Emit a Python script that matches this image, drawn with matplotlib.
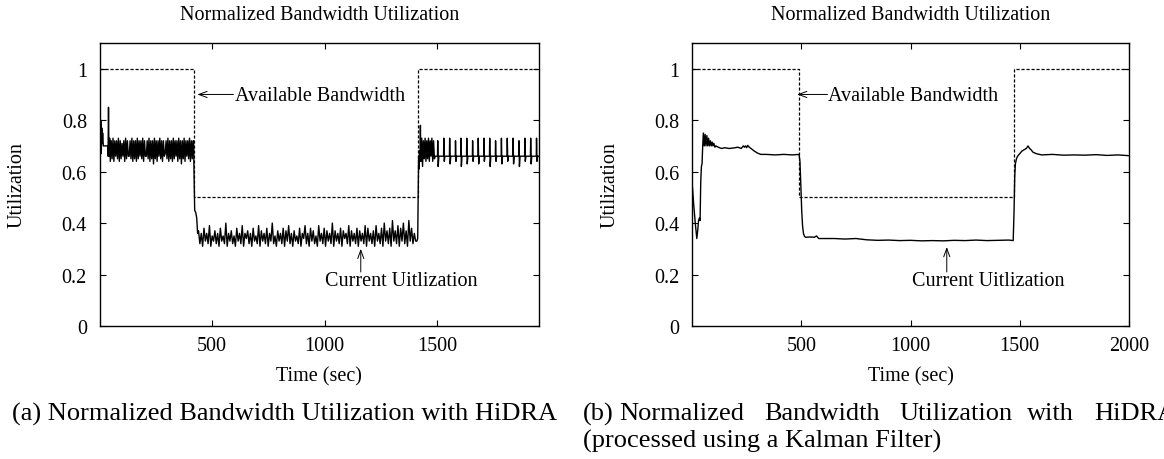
import numpy as np
import matplotlib
matplotlib.use('Agg')
from matplotlib import pyplot as plt

plt.rcParams['font.family'] = ['Liberation Serif', 'DejaVu Serif']

# ---- panel (a): raw utilization ----
# start-up part
t_a0 = [0, 2, 4, 6, 8, 10, 12, 14, 17, 20, 36, 38, 40, 42, 45, 48]
u_a0 = [0.76, 0.79, 0.73, 0.80, 0.67, 0.77, 0.71, 0.75, 0.70, 0.70,
        0.70, 0.66, 0.85, 0.66, 0.73, 0.64]
# dense band before the bandwidth drop (52..416 s)
u_a1 = [0.72, 0.65, 0.73, 0.64, 0.72, 0.66, 0.72, 0.65, 0.73, 0.64,
        0.72, 0.65, 0.71, 0.66, 0.72, 0.64, 0.73, 0.65, 0.72, 0.66,
        0.66, 0.72, 0.65, 0.73, 0.64, 0.72, 0.65, 0.72, 0.64, 0.73,
        0.65, 0.72, 0.66, 0.72, 0.65, 0.73, 0.64, 0.72, 0.66, 0.66,
        0.72, 0.65, 0.73, 0.64, 0.72, 0.65, 0.72, 0.63, 0.73, 0.65,
        0.72, 0.64, 0.72, 0.66, 0.73, 0.65, 0.72, 0.64, 0.72, 0.66,
        0.67, 0.72, 0.65, 0.73, 0.64, 0.72, 0.65, 0.72, 0.64, 0.73,
        0.65, 0.72, 0.66, 0.72, 0.64, 0.73, 0.65, 0.72, 0.63, 0.72,
        0.65, 0.73, 0.64, 0.72, 0.66, 0.72, 0.65, 0.73, 0.64, 0.72,
        0.65, 0.72]
# drop
t_a1d = [418, 420, 423, 428, 432, 436]
u_a1d = [0.72, 0.60, 0.45, 0.44, 0.42, 0.36]
# band at half bandwidth (440..1405 s)
u_a2 = [0.37, 0.32, 0.36, 0.31, 0.38, 0.33, 0.36, 0.32, 0.39, 0.31,
        0.35, 0.33, 0.37, 0.32, 0.36, 0.31, 0.38, 0.33, 0.35, 0.32,
        0.40, 0.31, 0.36, 0.33, 0.37, 0.32, 0.35, 0.31, 0.38, 0.33,
        0.36, 0.32, 0.39, 0.31, 0.36, 0.34, 0.37, 0.32, 0.36, 0.31,
        0.38, 0.33, 0.35, 0.32, 0.39, 0.31, 0.37, 0.33, 0.36, 0.32,
        0.38, 0.31, 0.36, 0.33, 0.40, 0.32, 0.35, 0.31, 0.37, 0.33,
        0.36, 0.32, 0.38, 0.31, 0.37, 0.33, 0.39, 0.32, 0.36, 0.31,
        0.37, 0.33, 0.35, 0.32, 0.38, 0.31, 0.36, 0.34, 0.39, 0.32,
        0.36, 0.31, 0.38, 0.33, 0.37, 0.32, 0.35, 0.31, 0.39, 0.33,
        0.36, 0.32, 0.38, 0.31, 0.37, 0.33, 0.36, 0.32, 0.40, 0.31,
        0.37, 0.33, 0.36, 0.32, 0.38, 0.31, 0.37, 0.34, 0.36, 0.32,
        0.39, 0.31, 0.37, 0.33, 0.36, 0.32, 0.38, 0.31, 0.37, 0.33,
        0.36, 0.32, 0.39, 0.31, 0.38, 0.33, 0.36, 0.32, 0.37, 0.31,
        0.39, 0.33, 0.36, 0.32, 0.38, 0.31, 0.40, 0.33, 0.37, 0.32,
        0.38, 0.31, 0.41, 0.33, 0.37, 0.32, 0.39, 0.31, 0.38, 0.33,
        0.40, 0.32, 0.37, 0.31, 0.41, 0.33, 0.38, 0.32, 0.36, 0.33]
# rise back
t_a2r = [1410, 1414, 1416, 1418, 1420, 1422, 1424, 1426]
u_a2r = [0.33, 0.34, 0.50, 0.66, 0.61, 0.68, 0.64, 0.78]
# short dense band after the rise (1428..1492 s)
u_a3 = [0.64, 0.73, 0.62, 0.72, 0.65, 0.73, 0.64, 0.72, 0.65, 0.73,
        0.64, 0.72, 0.66, 0.73, 0.64, 0.72, 0.65, 0.66]
# periodic spikes on a 0.66 baseline
spike_t = [1503, 1530, 1556, 1582, 1606, 1632, 1658, 1683, 1708,
           1734, 1760, 1786, 1812, 1838, 1864, 1890, 1916, 1942]
spike_top = [0.72, 0.73, 0.73, 0.72, 0.73, 0.73, 0.72, 0.73, 0.73,
             0.73, 0.72, 0.73, 0.73, 0.73, 0.72, 0.73, 0.73, 0.73]
spike_low = [0.62, 0.64, 0.63, 0.64, 0.62, 0.63, 0.64, 0.63, 0.64,
             0.62, 0.64, 0.63, 0.64, 0.63, 0.62, 0.64, 0.63, 0.64]
base_a = 0.66
end_a = 1953

avail_t_a = [0, 420, 1416, 1953]
avail_a = [1.0, 0.5, 1.0, 1.0]

# ---- panel (b): Kalman filtered ----
t_b = [0, 2, 8, 15, 22, 26, 30, 34, 37, 40,
       43, 46, 49, 52, 56, 60, 64, 68, 72, 76,
       80, 84, 88, 92, 96, 100, 105, 110, 120, 135,
       150, 170, 190, 210, 225, 235, 240, 245, 250, 255,
       262, 270, 285, 300, 315, 340, 380, 420, 460, 490,
       494, 498, 502, 506, 510, 515, 520, 540, 560, 570,
       580, 600, 650, 700, 750, 800, 850, 900, 950, 1000,
       1050, 1100, 1150, 1200, 1250, 1300, 1350, 1400, 1450, 1470,
       1474, 1477, 1480, 1485, 1490, 1500, 1510, 1520, 1530, 1538,
       1545, 1552, 1560, 1575, 1600, 1650, 1700, 1750, 1800, 1850,
       1900, 1950, 2000]
u_b = [0.39, 0.54, 0.47, 0.40, 0.34, 0.37, 0.41, 0.42, 0.41, 0.56,
       0.62, 0.63, 0.70, 0.75, 0.70, 0.745, 0.70, 0.74, 0.70, 0.73,
       0.70, 0.72, 0.70, 0.715, 0.70, 0.71, 0.695, 0.70, 0.695, 0.69,
       0.693, 0.69, 0.692, 0.695, 0.69, 0.70, 0.695, 0.70, 0.693, 0.702,
       0.695, 0.69, 0.68, 0.672, 0.667, 0.667, 0.665, 0.667, 0.665, 0.667,
       0.64, 0.55, 0.45, 0.39, 0.36, 0.348, 0.345, 0.346, 0.345, 0.35,
       0.34, 0.34, 0.34, 0.338, 0.34, 0.335, 0.333, 0.334, 0.332, 0.333,
       0.331, 0.332, 0.331, 0.333, 0.332, 0.334, 0.332, 0.333, 0.334, 0.332,
       0.45, 0.58, 0.63, 0.65, 0.66, 0.67, 0.68, 0.685, 0.69, 0.70,
       0.69, 0.685, 0.676, 0.67, 0.665, 0.667, 0.664, 0.665, 0.664, 0.666,
       0.663, 0.665, 0.662]

avail_t_b = [0, 490, 1473, 2000]
avail_b = [1.0, 0.5, 1.0, 1.0]

yticks = [0, 0.2, 0.4, 0.6, 0.8, 1.0]
ytick_labels = ['0', '0.2', '0.4', '0.6', '0.8', '1']
xticks_a = [500, 1000, 1500]
xticks_b = [500, 1000, 1500, 2000]

title = 'Normalized Bandwidth Utilization'
caption_a = '(a) Normalized Bandwidth Utilization with HiDRA'
caption_b1 = ['(b)', 'Normalized', 'Bandwidth', 'Utilization', 'with', 'HiDRA']
caption_b2 = '(processed using a Kalman Filter)'

# assemble panel (a) series
tail_t, tail_u = [], []
for ts, top, low in zip(spike_t, spike_top, spike_low):
    tail_t += [ts - 1, ts, ts + 2, ts + 5]
    tail_u += [base_a, top, low, base_a]
tail_t.append(end_a)
tail_u.append(base_a)

t_a = np.concatenate([t_a0, np.linspace(52, 416, len(u_a1)), t_a1d,
                      np.linspace(440, 1405, len(u_a2)), t_a2r,
                      np.linspace(1428, 1492, len(u_a3)), tail_t])
u_a = np.concatenate([u_a0, u_a1, u_a1d, u_a2, u_a2r, u_a3, tail_u])

fig = plt.figure(figsize=(11.64, 4.6), dpi=100)
axa = fig.add_axes([99.5 / 1164, 1 - 327 / 460, 439.5 / 1164, 283 / 460])
axb = fig.add_axes([692 / 1164, 1 - 327 / 460, 437 / 1164, 283 / 460])

fs = 14.5


def style(ax, xticks, xmax):
    ax.set_xlim(0, xmax)
    ax.set_ylim(0, 1.1)
    ax.set_xticks(xticks)
    ax.set_xticklabels([str(x) for x in xticks])
    ax.set_yticks(yticks)
    ax.set_yticklabels(ytick_labels)
    ax.tick_params(direction='in', top=True, right=True, length=4, width=0.8,
                   labelsize=fs)
    ax.tick_params(axis='y', pad=9)
    ax.tick_params(axis='x', pad=7)
    for s in ax.spines.values():
        s.set_linewidth(1.0)
    ax.text(0.5, 1.102, title, transform=ax.transAxes, ha='center',
            va='center', fontsize=14.5)
    ax.text(0.5, -0.177, 'Time (sec)', transform=ax.transAxes, ha='center',
            va='center', fontsize=fs)
    ax.text(-0.187, 0.5, 'Utilization', transform=ax.transAxes, ha='center',
            va='center', rotation=90, fontsize=fs)


arrow = dict(arrowstyle='->,head_length=0.6,head_width=0.22', lw=0.7,
             color='black', shrinkA=0, shrinkB=0)

# panel (a)
axa.plot(avail_t_a, avail_a, color='black', lw=0.9, ls=(0, (2.5, 1.5)),
         drawstyle='steps-post')
axa.plot(t_a, u_a, color='black', lw=1.0)
style(axa, xticks_a, 1953)
axa.annotate('', xy=(435, 0.9), xytext=(595, 0.9), arrowprops=arrow)
axa.text(600, 0.895, 'Available Bandwidth', fontsize=fs, va='center')
axa.annotate('', xy=(1161, 0.30), xytext=(1161, 0.21), arrowprops=arrow)
axa.text(1002, 0.176, 'Current Uitlization', fontsize=fs, va='center')

# panel (b)
axb.plot(avail_t_b, avail_b, color='black', lw=0.9, ls=(0, (2.5, 1.5)),
         drawstyle='steps-post')
axb.plot(t_b, u_b, color='black', lw=1.0)
style(axb, xticks_b, 2000)
axb.annotate('', xy=(481, 0.9), xytext=(620, 0.9), arrowprops=arrow)
axb.text(624, 0.895, 'Available Bandwidth', fontsize=fs, va='center')
axb.annotate('', xy=(1166, 0.307), xytext=(1166, 0.21), arrowprops=arrow)
axb.text(1008, 0.176, 'Current Uitlization', fontsize=fs, va='center')

# captions
cfs = 19
fig.text(12 / 1164, 1 - 414 / 460, caption_a, fontsize=cfs, va='center')
for word, px in zip(caption_b1, [583, 619, 764, 899, 1027, 1094]):
    fig.text(px / 1164, 1 - 414 / 460, word, fontsize=cfs, va='center')
fig.text(583 / 1164, 1 - 441.5 / 460, caption_b2, fontsize=cfs, va='center')

fig.savefig('out.png', dpi=100)
